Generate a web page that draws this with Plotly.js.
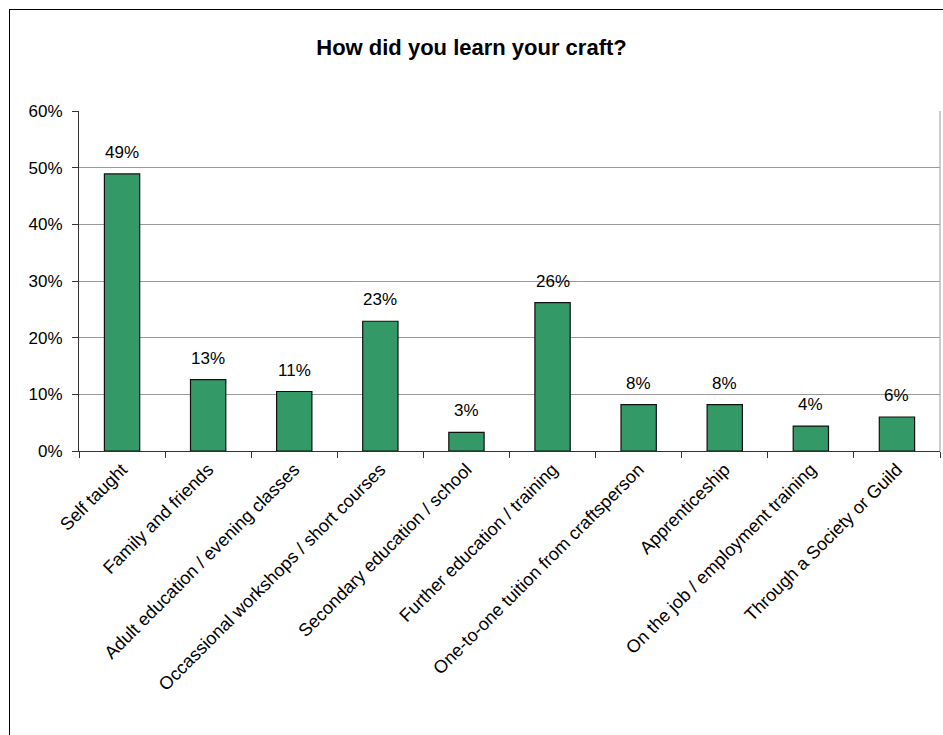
<!DOCTYPE html>
<html>
<head>
<meta charset="utf-8">
<script src="https://cdn.plot.ly/plotly-3.0.1.min.js"></script>
<style>
  html, body { margin: 0; padding: 0; overflow: hidden; background: #fff; }
  #chart { width: 943px; height: 735px; }
  #frame { position: absolute; left: 9px; top: 9px; width: 960px; height: 760px;
           border: 1.5px solid #000; pointer-events: none; }
</style>
</head>
<body>
<div id="chart"></div>
<div id="frame"></div>
<script>
const categories = [
  "Self taught",
  "Family and friends",
  "Adult education / evening classes",
  "Occassional workshops / short courses",
  "Secondary education / school",
  "Further education / training",
  "One-to-one tuition from craftsperson",
  "Apprenticeship",
  "On the job / employment training",
  "Through a Society or Guild"
];
const values = [48.9, 12.6, 10.5, 22.9, 3.3, 26.2, 8.2, 8.2, 4.4, 6.0];
const labels = values.map(v => Math.round(v) + "%");
const titleText = "How did you learn your craft?";

const font = "Liberation Sans, Arial, sans-serif";

const trace = {
  type: "bar",
  x: categories,
  y: values,
  marker: { color: "#339966", line: { color: "#111", width: 1.2 } },
  hoverinfo: "x+y"
};

const annotations = categories.map((c, i) => ({
  x: c, y: values[i], xref: "x", yref: "y",
  text: labels[i], showarrow: false,
  yanchor: "bottom", yshift: 10,
  font: { family: font, size: 17, color: "#000" }
}));

const layout = {
  width: 943, height: 735,
  margin: { l: 79, r: 3, t: 111, b: 284 },
  paper_bgcolor: "#fff", plot_bgcolor: "#fff",
  showlegend: false,
  bargap: 0.59,
  title: {
    text: "<b>" + titleText + "</b>",
    x: 0.5, xref: "container", xanchor: "center",
    y: 1 - 47 / 735, yref: "container", yanchor: "middle",
    font: { family: font, size: 22, color: "#000" }
  },
  xaxis: {
    type: "category",
    tickangle: -45,
    tickson: "boundaries",
    ticks: "outside", ticklen: 6, tickcolor: "#333",
    showline: true, linecolor: "#333", linewidth: 1,
    showgrid: false,
    tickfont: { family: font, size: 18, color: "#000" }
  },
  yaxis: {
    range: [0, 60], dtick: 10, ticksuffix: "%",
    ticks: "outside", ticklen: 6, tickcolor: "#333",
    ticklabelstandoff: 6,
    showline: true, linecolor: "#333", linewidth: 1,
    showgrid: true, gridcolor: "#9a9a9a", gridwidth: 1,
    zeroline: false,
    tickfont: { family: font, size: 17, color: "#000" }
  },
  annotations: annotations,
  shapes: [
    { type: "line", xref: "paper", yref: "paper", x0: 1, x1: 1, y0: 0, y1: 1,
      line: { color: "#9a9a9a", width: 1 } }
  ]
};

Plotly.newPlot("chart", [trace], layout, { displayModeBar: false, staticPlot: true });
</script>
</body>
</html>
